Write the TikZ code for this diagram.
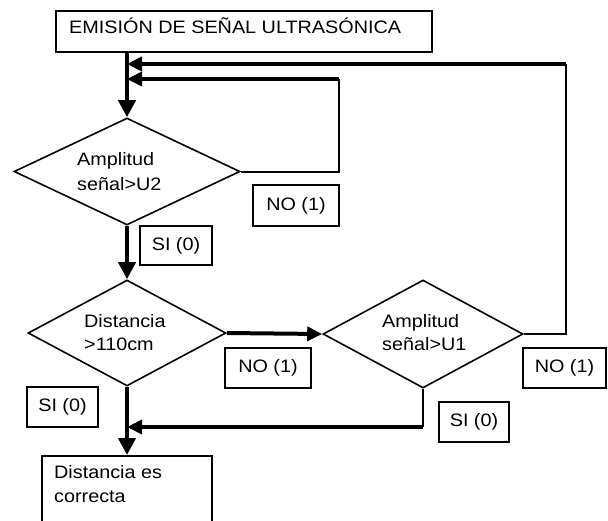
\documentclass[tikz,border=0pt]{standalone}
\usepackage{fontspec}
\setmainfont{Liberation Sans}[FakeStretch=1.1]
\usetikzlibrary{shapes.geometric,arrows.meta}
\begin{document}
\begin{tikzpicture}[x=1pt,y=-1pt,
  every node/.style={font=\fontsize{18}{25}\selectfont},
  dia/.style={draw,line width=1.6pt,diamond,inner sep=0pt},
  rbox/.style={draw,line width=1.8pt,rectangle,inner sep=0pt},
  lbl/.style={draw,line width=1.8pt,rectangle,inner sep=0pt,align=center},
  txt/.style={inner sep=0pt,anchor=base west},
  thn/.style={line width=2pt},
  thk/.style={line width=4pt},
  varr/.style={thk,-{Triangle[length=17pt,width=17pt]}},
  harr/.style={thk,-{Triangle[length=15pt,width=14pt]}},
]
\useasboundingbox (0,0) rectangle (608,520);
\fill[white] (0,0) rectangle (608,520);
\clip (0,0) rectangle (608,520);

% boxes
\node[rbox, anchor=north west, minimum width=376pt, minimum height=41pt] (top) at (55,10) {};
\node[txt] (toptxt) at (69,33) {EMISIÓN DE SEÑAL ULTRASÓNICA};

\node[rbox, anchor=north west, minimum width=170pt, minimum height=100pt] (bot) at (41,455) {};
\node[txt] (bt1) at (54,478) {Distancia es};
\node[txt] (bt2) at (54,502) {correcta};

% diamonds
\node[dia, minimum width=226pt, minimum height=107pt] (d1) at (127,171.5) {};
\node[txt] (a1) at (77,165) {Amplitud};
\node[txt] (a2) at (77,190) {señal>U2};

\node[dia, minimum width=198pt, minimum height=106pt] (d2) at (127,333) {};
\node[txt] (b1t) at (84,327) {Distancia};
\node[txt] (b2t) at (84,350) {>110cm};

\node[dia, minimum width=200pt, minimum height=108pt] (d3) at (423,334) {};
\node[txt] (c1t) at (382,327) {Amplitud};
\node[txt] (c2t) at (382,350) {señal>U1};

% labels
\node[lbl, minimum width=86pt, minimum height=41pt] (no1) at (296,205.5) {NO (1)};
\node[lbl, minimum width=72pt, minimum height=39pt] (si1) at (176,245.5) {SI (0)};
\node[lbl, minimum width=86pt, minimum height=40pt] (no2) at (268,368) {NO (1)};
\node[lbl, minimum width=71pt, minimum height=40pt] (si2) at (62.5,407) {SI (0)};
\node[lbl, minimum width=83pt, minimum height=40pt] (no3) at (564.5,368) {NO (1)};
\node[lbl, minimum width=70pt, minimum height=40pt] (si3) at (474,422) {SI (0)};

% coordinates
\coordinate (j1) at (127,64);
\coordinate (j2) at (127,79);
\coordinate (r1) at (566,64);
\coordinate (r2) at (339,79);
\coordinate (q1) at (423,427);
\coordinate (q2) at (127,427);

% connectors
\draw[varr] (d1.north |- top.south) -- (d1.north);
\draw[thn] (d1.east) -| (r2);
\draw[harr] (r2) -- (j2);
\draw[thn] (d3.east) -| (r1);
\draw[harr] (r1) -- (j1);
\draw[varr] (d1.south) -- (d2.north);
\draw[harr] (d2.east) -- (d3.west);
\draw[thn] (d3.south) -- (q1);
\draw[harr] (q1) -- (q2);
\draw[varr] (d2.south) -- (d2.south |- bot.north);
\end{tikzpicture}
\end{document}
